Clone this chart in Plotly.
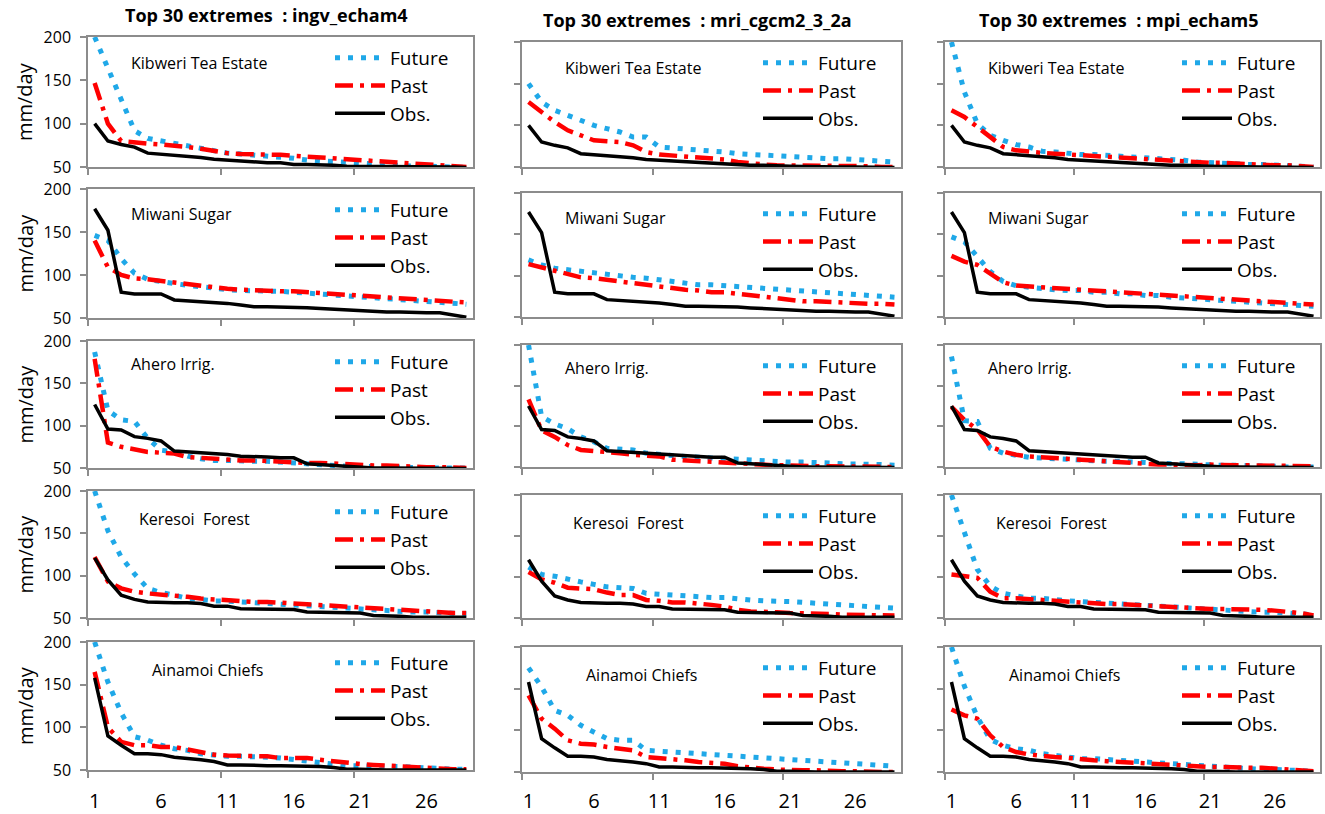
import plotly.graph_objects as go

W, H = 1325, 814

# ---------------- data ----------------
ranks = list(range(1, 30))
x_tick_vals = [1, 6, 11, 16, 21, 26]
x_tick_text = ["1", "6", "11", "16", "21", "26"]
y_tick_vals = [50, 100, 150, 200]
y_tick_text = ["50", "100", "150", "200"]

models = ["ingv_echam4", "mri_cgcm2_3_2a", "mpi_echam5"]
stations = ["Kibweri Tea Estate", "Miwani Sugar", "Ahero Irrig.", "Keresoi  Forest", "Ainamoi Chiefs"]
series_names = ["Future", "Past", "Obs."]

# Observed (same for every model)
obs_kibweri = [100, 80, 76, 73, 66, 65, 64, 62, 61, 59, 58, 57, 56, 55, 55, 53, 53, 52, 52, 51, 51, 50.5, 50, 50, 50, 50, 50, 50, 49.5]
obs_miwani = [177, 152, 80, 78, 78, 78, 71, 70, 69, 69, 67, 65, 63, 63, 63, 62, 62, 61, 60, 60, 59, 58, 57, 57, 56, 56, 56, 54, 51]
obs_ahero = [125, 96, 95, 87, 85, 82, 70, 69, 68, 67, 66, 64, 64, 63, 62, 62, 55, 54, 53, 51, 51, 50, 50, 50, 50, 50, 50, 49.5, 49.5]
obs_keresoi = [121, 95, 77, 72, 69, 68, 68, 68, 67, 64, 64, 61, 61, 60, 60, 60, 57, 57, 56, 56, 56, 53, 53, 52, 51, 51, 51, 51, 51]
obs_ainamoi = [158, 90, 79, 69, 69, 68, 65, 64, 62, 60, 56, 56, 55, 55, 55, 55, 54, 54, 53, 51, 51, 50, 50, 50, 50, 50, 50, 50, 50]

# ingv_echam4
fut_ingv_kibweri = [200, 164, 125, 92, 83, 80, 77, 75, 72, 68, 66, 65, 64, 63, 62, 60, 58, 57, 56, 55, 54, 53, 52, 52, 51, 51, 50, 50, 49.5]
past_ingv_kibweri = [147, 100, 80, 78, 77, 76, 75, 73, 71, 68, 66, 65, 65, 64, 64, 63, 62, 61, 60, 58, 57, 56, 55, 54, 53, 53, 52, 51, 50]
fut_ingv_miwani = [146, 140, 119, 102, 95, 92, 90, 88, 86, 84, 83, 82, 82, 81, 81, 80, 79, 78, 77, 76, 74, 73, 72, 71, 71, 70, 69, 68, 66]
past_ingv_miwani = [140, 109, 100, 96, 95, 93, 91, 89, 87, 86, 84, 83, 82, 82, 81, 81, 80, 79, 78, 77, 76, 74, 73, 72, 71, 70, 69, 69, 68]
fut_ingv_ahero = [187, 118, 107, 105, 85, 71, 69, 64, 61, 59, 59, 58, 58, 58, 57, 55, 54, 53, 52, 52, 52, 51, 51, 51, 50, 50, 50, 50, 50]
past_ingv_ahero = [179, 80, 75, 72, 69, 68, 67, 63, 62, 60, 60, 59, 59, 58, 58, 57, 56, 56, 55, 54, 54, 53, 53, 52, 52, 51, 51, 50, 50]
fut_ingv_keresoi = [200, 153, 122, 102, 85, 80, 77, 73, 72, 70, 70, 69, 69, 68, 67, 66, 64, 63, 62, 61, 60, 59, 58, 58, 57, 57, 56, 55, 55]
past_ingv_keresoi = [122, 93, 85, 81, 79, 78, 77, 75, 73, 72, 70, 70, 69, 69, 68, 67, 66, 65, 64, 63, 62, 61, 60, 59, 58, 57, 57, 56, 56]
fut_ingv_ainamoi = [200, 153, 117, 89, 85, 79, 75, 73, 69, 67, 66, 66, 66, 65, 64, 62, 61, 59, 56, 55, 55, 54, 54, 54, 53, 53, 52, 51, 51]
past_ingv_ainamoi = [165, 100, 83, 79, 79, 77, 77, 74, 71, 68, 67, 67, 67, 66, 64, 64, 64, 62, 60, 59, 57, 56, 55, 54, 53, 53, 52, 51, 51]

# mri_cgcm2_3_2a
fut_mri_kibweri = [150, 128, 118, 112, 106, 100, 96, 92, 86, 86, 74, 73, 72, 71, 69, 68, 66, 65, 64, 63, 63, 62, 61, 60, 60, 59, 58, 57, 56]
past_mri_kibweri = [128, 116, 104, 94, 88, 82, 81, 80, 76, 68, 65, 64, 63, 62, 60, 59, 56, 54, 53, 52, 52, 52, 52, 51, 51, 51, 51, 50, 50]
fut_mri_miwani = [119, 113, 109, 107, 105, 103, 101, 99, 98, 97, 95, 93, 91, 89, 89, 88, 86, 86, 84, 84, 82, 82, 80, 80, 78, 77, 76, 75, 74]
past_mri_miwani = [114, 110, 107, 103, 98, 97, 95, 93, 91, 89, 86, 84, 83, 82, 80, 80, 78, 76, 74, 72, 70, 69, 69, 68, 68, 67, 66, 66, 65]
fut_mri_ahero = [200, 112, 103, 97, 87, 81, 73, 72, 71, 67, 65, 64, 63, 62, 61, 61, 60, 59, 58, 57, 56, 56, 56, 55, 54, 54, 54, 53, 52]
past_mri_ahero = [133, 95, 87, 77, 71, 70, 69, 67, 65, 64, 63, 59, 58, 57, 56, 55, 54, 53, 52, 52, 52, 51, 51, 51, 51, 50.5, 50.5, 50, 50]
fut_mri_keresoi = [112, 103, 101, 97, 94, 91, 88, 87, 86, 80, 79, 77, 76, 76, 75, 75, 73, 72, 71, 71, 70, 69, 68, 67, 66, 66, 65, 64, 62]
past_mri_keresoi = [106, 97, 93, 87, 86, 85, 81, 78, 78, 72, 71, 69, 69, 68, 66, 64, 60, 58, 58, 57, 56, 56, 55, 55, 54, 54, 54, 54, 53]
fut_mri_ainamoi = [175, 152, 124, 118, 106, 98, 90, 88, 88, 76, 75, 74, 72, 71, 70, 69, 69, 67, 66, 65, 65, 64, 63, 62, 61, 60, 59, 58, 57]
past_mri_ainamoi = [142, 114, 102, 88, 84, 83, 80, 78, 76, 68, 67, 65, 64, 62, 61, 60, 57, 55, 54, 53, 52, 52, 52, 51, 51, 51, 50, 50, 50]

# mpi_echam5
fut_mpi_kibweri = [200, 140, 102, 88, 82, 77, 74, 69, 68, 66, 65, 65, 64, 64, 62, 61, 60, 59, 58, 56, 55, 54, 54, 53, 53, 52, 51, 51, 50]
past_mpi_kibweri = [118, 110, 98, 86, 74, 70, 68, 67, 66, 65, 65, 64, 63, 62, 61, 60, 59, 58, 57, 56, 55, 55, 54, 54, 53, 52, 52, 51, 50]
fut_mpi_miwani = [147, 141, 123, 105, 93, 88, 86, 84, 83, 82, 82, 80, 80, 78, 78, 76, 76, 74, 73, 72, 71, 70, 69, 68, 68, 66, 65, 64, 63]
past_mpi_miwani = [124, 117, 113, 102, 92, 88, 87, 85, 84, 83, 82, 81, 80, 79, 78, 77, 76, 75, 75, 74, 73, 72, 71, 70, 69, 68, 67, 66, 65]
fut_mpi_ahero = [186, 107, 106, 73, 67, 64, 62, 61, 60, 59, 59, 58, 57, 57, 56, 56, 55, 54, 54, 53, 52, 52, 52, 52, 51, 51, 50, 50, 50]
past_mpi_ahero = [124, 108, 96, 75, 69, 65, 63, 62, 61, 59, 58, 58, 57, 56, 55, 54, 53, 53, 52, 52, 53, 52, 52, 52, 52, 51, 51, 51, 51]
fut_mpi_keresoi = [200, 153, 109, 89, 80, 77, 74, 74, 72, 71, 70, 69, 68, 67, 66, 65, 65, 64, 63, 62, 61, 60, 59, 58, 57, 57, 56, 55, 54]
past_mpi_keresoi = [103, 101, 99, 82, 74, 74, 73, 71, 70, 69, 69, 68, 67, 67, 66, 65, 64, 63, 62, 61, 61, 61, 61, 60, 60, 59, 58, 56, 53]
fut_mpi_ainamoi = [200, 153, 116, 89, 82, 78, 76, 72, 70, 68, 66, 66, 65, 64, 63, 62, 60, 59, 58, 57, 56, 55, 54, 54, 53, 53, 52, 51, 51]
past_mpi_ainamoi = [125, 118, 114, 94, 80, 74, 71, 69, 68, 67, 65, 64, 63, 62, 61, 60, 59, 58, 57, 56, 56, 56, 55, 55, 55, 54, 53, 52, 51]

obs_by_station = [obs_kibweri, obs_miwani, obs_ahero, obs_keresoi, obs_ainamoi]
future_by_model = [
    [fut_ingv_kibweri, fut_ingv_miwani, fut_ingv_ahero, fut_ingv_keresoi, fut_ingv_ainamoi],
    [fut_mri_kibweri, fut_mri_miwani, fut_mri_ahero, fut_mri_keresoi, fut_mri_ainamoi],
    [fut_mpi_kibweri, fut_mpi_miwani, fut_mpi_ahero, fut_mpi_keresoi, fut_mpi_ainamoi],
]
past_by_model = [
    [past_ingv_kibweri, past_ingv_miwani, past_ingv_ahero, past_ingv_keresoi, past_ingv_ainamoi],
    [past_mri_kibweri, past_mri_miwani, past_mri_ahero, past_mri_keresoi, past_mri_ainamoi],
    [past_mpi_kibweri, past_mpi_miwani, past_mpi_ahero, past_mpi_keresoi, past_mpi_ainamoi],
]

# ---------------- layout geometry (pixels) ----------------
col_px = [(88, 473), (522, 901), (945, 1320)]
rows_left = [(37, 167), (189, 318), (341, 468), (491, 618), (642, 770)]
rows_other = [(42, 167), (193, 317), (345, 467), (495, 618), (647, 772)]
label_dx = [41, 41, 41, 49, 62]
label_dy = [26, 25, 23, 28, 28]
title_y = [15, 20, 20]
x_label_standoff = [12, 10, 10]

FONT = "Open Sans"
FUT_COLOR = "#1FA8E8"
PAST_COLOR = "#FF0000"
OBS_COLOR = "#000000"
AX_COLOR = "#8C8C8C"

def px_x(v):
    return v / W

def px_y(v):
    return 1 - v / H

fig = go.Figure()
layout = dict(
    width=W, height=H,
    margin=dict(l=0, r=0, t=0, b=0, autoexpand=False),
    paper_bgcolor="white", plot_bgcolor="white",
    font=dict(family=FONT, color="black"),
    annotations=[],
)

n = 0
for r in range(5):
    for c in range(3):
        n += 1
        sfx = "" if n == 1 else str(n)
        legname = "legend" + sfx
        x0, x1 = col_px[c]
        y0, y1 = (rows_left if c == 0 else rows_other)[r]
        fig.add_trace(go.Scatter(
            x=ranks, y=future_by_model[c][r], mode="lines", name=series_names[0],
            line=dict(color=FUT_COLOR, width=5, dash="5px,8px"),
            xaxis="x" + sfx, yaxis="y" + sfx, legend=legname))
        fig.add_trace(go.Scatter(
            x=ranks, y=past_by_model[c][r], mode="lines", name=series_names[1],
            line=dict(color=PAST_COLOR, width=4.5, dash="18px,7px,4px,7px"),
            xaxis="x" + sfx, yaxis="y" + sfx, legend=legname))
        fig.add_trace(go.Scatter(
            x=ranks, y=obs_by_station[r], mode="lines", name=series_names[2],
            line=dict(color=OBS_COLOR, width=3.5),
            xaxis="x" + sfx, yaxis="y" + sfx, legend=legname))

        layout["xaxis" + sfx] = dict(
            domain=[px_x(x0), px_x(x1)], anchor="y" + sfx, automargin=False,
            range=[0.5, 29.5], showgrid=False, zeroline=False,
            showline=True, mirror=True, linecolor=AX_COLOR, linewidth=1.5,
            tickmode="array", tickvals=x_tick_vals, ticktext=x_tick_text,
            ticks="", showticklabels=(r == 4), ticklabelstandoff=x_label_standoff[c],
            tickfont=dict(size=20, family=FONT),
            minor=dict(tickmode="array", tickvals=[0.5, 10.5, 20.5], ticks="outside",
                       ticklen=6, tickcolor=AX_COLOR, tickwidth=1.5, showgrid=False),
        )
        layout["yaxis" + sfx] = dict(
            domain=[px_y(y1), px_y(y0)], anchor="x" + sfx, automargin=False,
            range=[50, 200], showgrid=False, zeroline=False,
            showline=True, mirror=True, linecolor=AX_COLOR, linewidth=1.5,
            tickmode="array", tickvals=y_tick_vals, ticktext=y_tick_text,
            ticks="outside", ticklen=6, tickcolor=AX_COLOR, tickwidth=1.5,
            showticklabels=(c == 0), ticklabelstandoff=6,
            tickfont=dict(size=16, family=FONT),
        )
        layout[legname] = dict(
            x=px_x(x1 - 143), xanchor="left",
            y=px_y(y0 + 2), yanchor="top",
            bgcolor="rgba(0,0,0,0)", borderwidth=0,
            font=dict(size=19, family=FONT, color="black"),
            itemwidth=50, tracegroupgap=0,
        )
        # station label
        layout["annotations"].append(dict(
            text=stations[r], x=px_x(x0 + label_dx[r]), y=px_y(y0 + label_dy[r]),
            xref="paper", yref="paper", xanchor="left", yanchor="middle",
            showarrow=False, font=dict(size=16, family=FONT, color="black")))
        if c == 0:
            layout["annotations"].append(dict(
                text="mm/day", x=px_x(25), y=px_y((y0 + y1) / 2),
                xref="paper", yref="paper", xanchor="center", yanchor="middle",
                textangle=-90, showarrow=False,
                font=dict(size=20, family=FONT, color="black")))

for c in range(3):
    x0, x1 = col_px[c]
    layout["annotations"].append(dict(
        text="<b>Top 30 extremes  : " + models[c] + "</b>",
        x=px_x((x0 + x1) / 2 - 14), y=px_y(title_y[c]),
        xref="paper", yref="paper", xanchor="center", yanchor="middle",
        showarrow=False, font=dict(size=18, family=FONT, color="black")))

fig.update_layout(**layout)
fig.write_html(
    "out.html",
    config={"displayModeBar": False},
    post_script="document.body.style.margin='0';document.body.style.padding='0';",
)
